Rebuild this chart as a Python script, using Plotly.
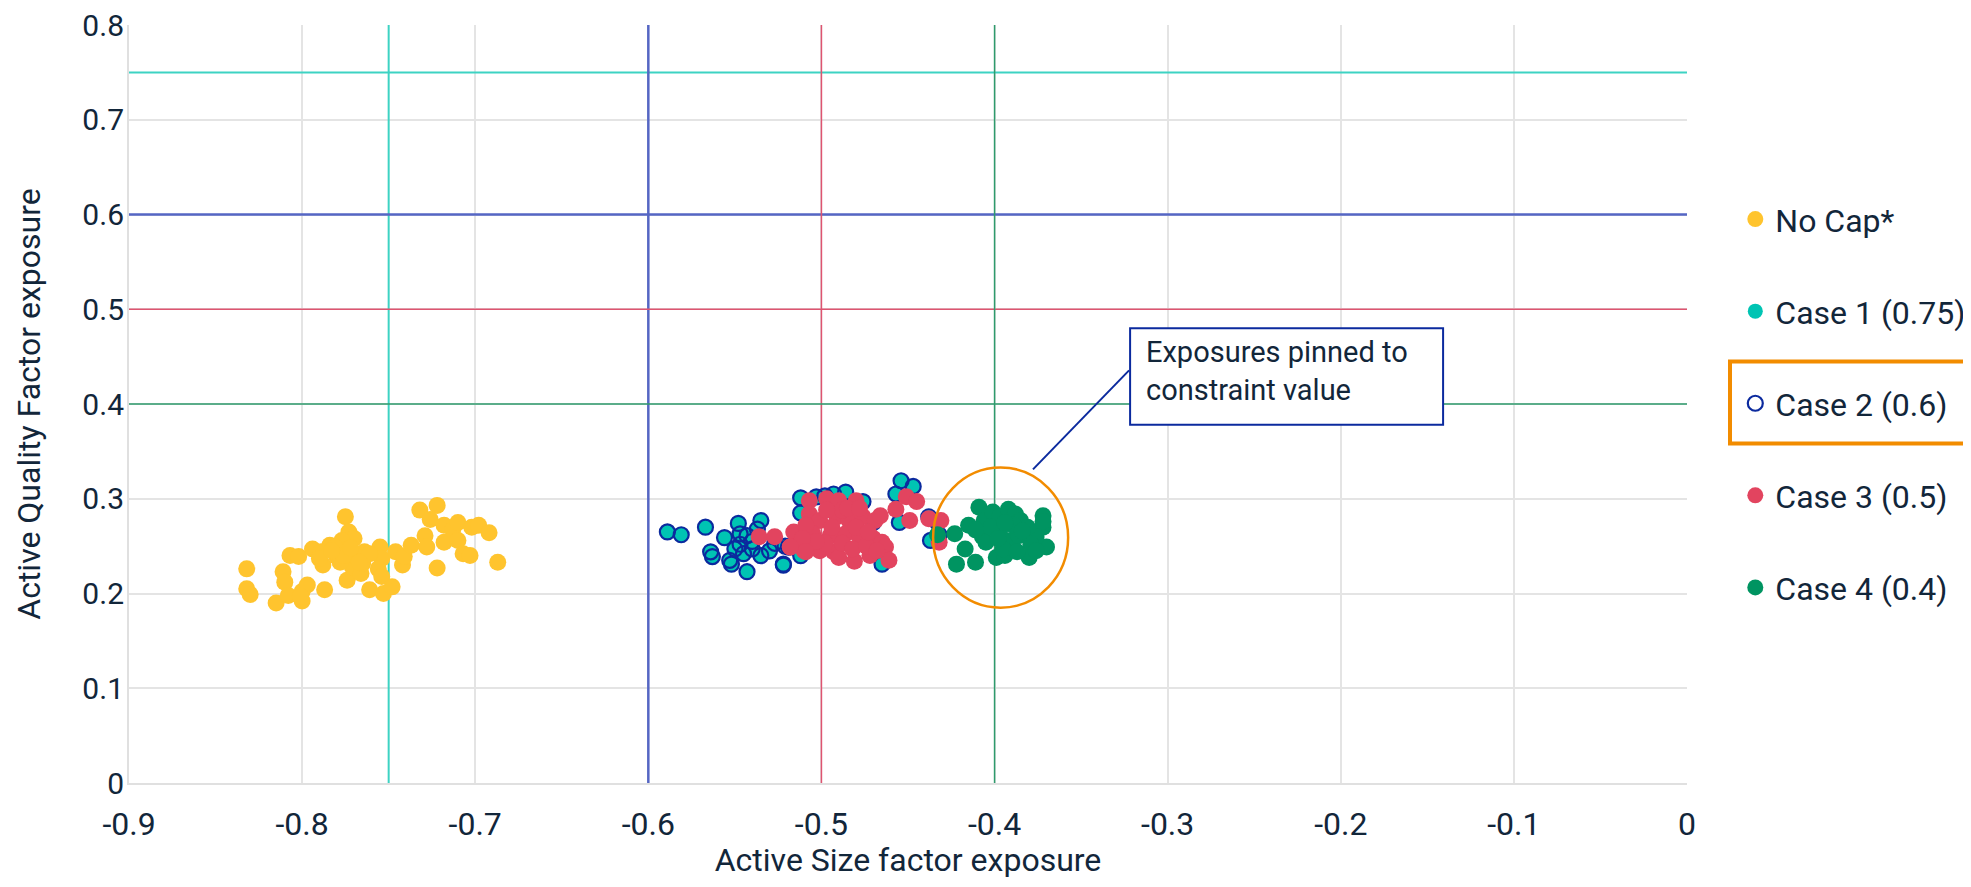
import plotly.graph_objects as go

# ---------------- data ----------------
nocap_x = [-0.832, -0.832, -0.830, -0.815, -0.807, -0.811, -0.810, -0.808, -0.800, -0.800, -0.797, -0.802,
           -0.794, -0.787, -0.788, -0.784, -0.780, -0.775, -0.773, -0.770, -0.777, -0.774, -0.771, -0.766,
           -0.764, -0.769, -0.761, -0.755, -0.754, -0.756, -0.754, -0.753, -0.748, -0.746, -0.742, -0.741,
           -0.737, -0.732, -0.722, -0.726, -0.729, -0.728, -0.722, -0.718, -0.718, -0.713, -0.710, -0.710,
           -0.707, -0.703, -0.702, -0.698, -0.692, -0.687, -0.781, -0.765, -0.761, -0.789, -0.778, -0.776,
           -0.767, -0.801, -0.790, -0.783, -0.772]
nocap_y = [0.226, 0.205, 0.199, 0.190, 0.240, 0.223, 0.212, 0.198, 0.192, 0.202, 0.209, 0.239,
           0.247, 0.204, 0.230, 0.251, 0.239, 0.281, 0.265, 0.258, 0.256, 0.214, 0.228, 0.221,
           0.244, 0.239, 0.204, 0.249, 0.237, 0.226, 0.218, 0.200, 0.207, 0.244, 0.230, 0.239,
           0.251, 0.288, 0.293, 0.278, 0.261, 0.249, 0.227, 0.272, 0.254, 0.267, 0.275, 0.256,
           0.242, 0.240, 0.270, 0.272, 0.264, 0.233, 0.249, 0.232, 0.242, 0.244, 0.233, 0.240,
           0.233, 0.197, 0.237, 0.245, 0.248]

case1_x = [-0.589, -0.581, -0.567, -0.556, -0.564, -0.563, -0.553, -0.552, -0.548, -0.535, -0.537, -0.547,
           -0.543, -0.550, -0.545, -0.540, -0.535, -0.543, -0.522, -0.519, -0.527, -0.512, -0.512, -0.493,
           -0.486, -0.476, -0.512, -0.454, -0.447, -0.457, -0.455, -0.438, -0.437, -0.465, -0.503, -0.498,
           -0.470, -0.540, -0.530, -0.547, -0.432, -0.433, -0.521, -0.522]
case1_y = [0.265, 0.262, 0.270, 0.259, 0.244, 0.239, 0.235, 0.231, 0.274, 0.277, 0.268, 0.263,
           0.261, 0.247, 0.242, 0.247, 0.240, 0.223, 0.230, 0.249, 0.253, 0.301, 0.285, 0.305,
           0.307, 0.297, 0.240, 0.319, 0.313, 0.305, 0.275, 0.281, 0.256, 0.231, 0.302, 0.303,
           0.275, 0.255, 0.245, 0.252, 0.262, 0.275, 0.250, 0.231]
# Case 2 exposures coincide with Case 1
case2_x = list(case1_x)
case2_y = list(case1_y)

case3_x = [-0.536, -0.527, -0.516, -0.518, -0.510, -0.507, -0.507, -0.497, -0.490, -0.480, -0.501, -0.491,
           -0.484, -0.476, -0.469, -0.466, -0.505, -0.495, -0.486, -0.478, -0.470, -0.465, -0.463, -0.501,
           -0.493, -0.490, -0.481, -0.472, -0.461, -0.498, -0.488, -0.482, -0.457, -0.451, -0.445, -0.449,
           -0.438, -0.431, -0.432, -0.509, -0.488, -0.497, -0.503, -0.474, -0.468, -0.494, -0.480, -0.473,
           -0.511, -0.485, -0.478, -0.518, -0.509]
case3_y = [0.260, 0.260, 0.265, 0.249, 0.245, 0.298, 0.284, 0.300, 0.298, 0.298, 0.277, 0.281,
           0.277, 0.281, 0.277, 0.282, 0.263, 0.261, 0.263, 0.260, 0.258, 0.254, 0.249, 0.245,
           0.244, 0.238, 0.234, 0.240, 0.235, 0.253, 0.253, 0.247, 0.289, 0.302, 0.297, 0.277,
           0.279, 0.277, 0.254, 0.272, 0.288, 0.288, 0.255, 0.250, 0.245, 0.270, 0.270, 0.265,
           0.258, 0.290, 0.290, 0.249, 0.244]

case4_x = [-0.433, -0.422, -0.417, -0.411, -0.423, -0.415, -0.409, -0.406, -0.407, -0.401, -0.397, -0.392,
           -0.388, -0.385, -0.399, -0.394, -0.380, -0.372, -0.372, -0.370, -0.376, -0.405, -0.391, -0.386,
           -0.381, -0.397, -0.402, -0.411, -0.379, -0.395, -0.387, -0.372, -0.389, -0.394, -0.384, -0.398,
           -0.376]
case4_y = [0.262, 0.231, 0.247, 0.233, 0.263, 0.272, 0.291, 0.277, 0.260, 0.286, 0.281, 0.289,
           0.284, 0.277, 0.238, 0.240, 0.238, 0.282, 0.270, 0.249, 0.260, 0.254, 0.256, 0.261,
           0.270, 0.267, 0.270, 0.267, 0.252, 0.247, 0.244, 0.276, 0.272, 0.275, 0.266, 0.258,
           0.245]

series_names = ["No Cap*", "Case 1 (0.75)", "Case 2 (0.6)", "Case 3 (0.5)", "Case 4 (0.4)"]

# constraint caps (vertical at -cap on size, horizontal at +cap on quality)
caps = [0.75, 0.6, 0.5, 0.4]
cap_colors = ["#3DD3C3", "#5566C4", "#DE5470", "#2E9B6C"]
cap_widths = [2, 2.5, 1.5, 1.5]

x_tick_vals = [-0.9, -0.8, -0.7, -0.6, -0.5, -0.4, -0.3, -0.2, -0.1, 0]
x_tick_text = ["-0.9", "-0.8", "-0.7", "-0.6", "-0.5", "-0.4", "-0.3", "-0.2", "-0.1", "0"]
y_tick_vals = [0, 0.1, 0.2, 0.3, 0.4, 0.5, 0.6, 0.7, 0.8]
y_tick_text = ["0", "0.1", "0.2", "0.3", "0.4", "0.5", "0.6", "0.7", "0.8"]

x_range = [-0.9, 0]
y_range = [0, 0.8]

# annotation geometry (data units)
circle_box = dict(x0=-0.4355, x1=-0.3575, y0=0.185, y1=0.333)
note_box = dict(x0=-0.3217, x1=-0.1409, y0=0.378, y1=0.480)
note_line = dict(x0=-0.3778, y0=0.331, x1=-0.3223, y1=0.4355)
note_text = "Exposures pinned to<br>constraint value"

# ---------------- figure ----------------
FONT = "Roboto, 'Noto Sans', sans-serif"
TXT = "#12263A"
YELLOW, TEAL, NAVY, RED, GREEN = "#FFC42E", "#00C4B3", "#0B2A9E", "#E2445F", "#009461"
ORANGE = "#F28C00"

fig = go.Figure()
fig.add_trace(go.Scatter(x=nocap_x, y=nocap_y, mode="markers", name=series_names[0], legendgroup="a",
                         marker=dict(size=17, color=YELLOW, line=dict(width=0))))
fig.add_trace(go.Scatter(x=case1_x, y=case1_y, mode="markers", name=series_names[1], legendgroup="b",
                         marker=dict(size=15, color=TEAL, line=dict(width=0))))
fig.add_trace(go.Scatter(x=case2_x, y=case2_y, mode="markers", name=series_names[2], legendgroup="c",
                         marker=dict(size=15, color="rgba(0,0,0,0)", line=dict(width=2.2, color=NAVY))))
fig.add_trace(go.Scatter(x=case3_x, y=case3_y, mode="markers", name=series_names[3], legendgroup="d",
                         marker=dict(size=17, color=RED, line=dict(width=0))))
fig.add_trace(go.Scatter(x=case4_x, y=case4_y, mode="markers", name=series_names[4], legendgroup="e",
                         marker=dict(size=17, color=GREEN, line=dict(width=0))))

shapes = []
for cap, col, w in zip(caps, cap_colors, cap_widths):
    shapes.append(dict(type="line", xref="x", yref="y", x0=-cap, x1=-cap, y0=y_range[0], y1=y_range[1],
                       line=dict(color=col, width=w), layer="between"))
    shapes.append(dict(type="line", xref="x", yref="y", x0=x_range[0], x1=x_range[1], y0=cap, y1=cap,
                       line=dict(color=col, width=w), layer="between"))

shapes.append(dict(type="circle", xref="x", yref="y", **circle_box, line=dict(color=ORANGE, width=2.5)))
shapes.append(dict(type="rect", xref="x", yref="y", **note_box, line=dict(color=NAVY, width=2),
                   fillcolor="white"))
shapes.append(dict(type="line", xref="x", yref="y", **note_line, line=dict(color=NAVY, width=2)))
# highlight box around Case 2 legend entry
shapes.append(dict(type="rect", xref="paper", yref="paper", x0=1.0276, x1=1.19, y0=0.448, y1=0.556,
                   line=dict(color=ORANGE, width=4)))

# the page body adds an 8px margin, so the figure is sized to fit inside the window
fig.update_layout(
    width=1963, height=871,
    margin=dict(l=121, r=284, t=17, b=96, autoexpand=False),
    paper_bgcolor="white", plot_bgcolor="white",
    font=dict(family=FONT, color=TXT, size=29),
    shapes=shapes,
    showlegend=True,
    legend=dict(x=1.031, xanchor="left", y=0.780, yanchor="top",
                font=dict(family=FONT, size=32, color=TXT),
                tracegroupgap=47.5, itemsizing="trace", bgcolor="rgba(0,0,0,0)"),
    annotations=[dict(x=note_box["x0"], y=note_box["y1"], xref="x", yref="y", xanchor="left", yanchor="top",
                      xshift=14, yshift=-5, text=note_text, showarrow=False, align="left",
                      font=dict(family=FONT, size=29, color=TXT))],
)
fig.update_xaxes(range=x_range, tickvals=x_tick_vals, ticktext=x_tick_text, automargin=False,
                 showgrid=True, gridcolor="#E4E4E4", gridwidth=2, zeroline=False,
                 showline=True, linecolor="#E0E0E0", linewidth=2, ticks="", ticklabeloverflow="allow",
                 tickfont=dict(family=FONT, size=32, color=TXT), ticklabelstandoff=12,
                 title=dict(text="Active Size factor exposure", font=dict(family=FONT, size=32, color=TXT),
                            standoff=24))
fig.update_yaxes(range=y_range, tickvals=y_tick_vals, ticktext=y_tick_text, automargin=False,
                 showgrid=True, gridcolor="#E4E4E4", gridwidth=2, zeroline=False,
                 showline=True, linecolor="#E0E0E0", linewidth=2, ticks="", ticklabeloverflow="allow",
                 tickfont=dict(family=FONT, size=30, color=TXT), ticklabelstandoff=-3,
                 title=dict(text="Active Quality Factor exposure", font=dict(family=FONT, size=32, color=TXT),
                            standoff=32))

fig.write_html("out.html")
